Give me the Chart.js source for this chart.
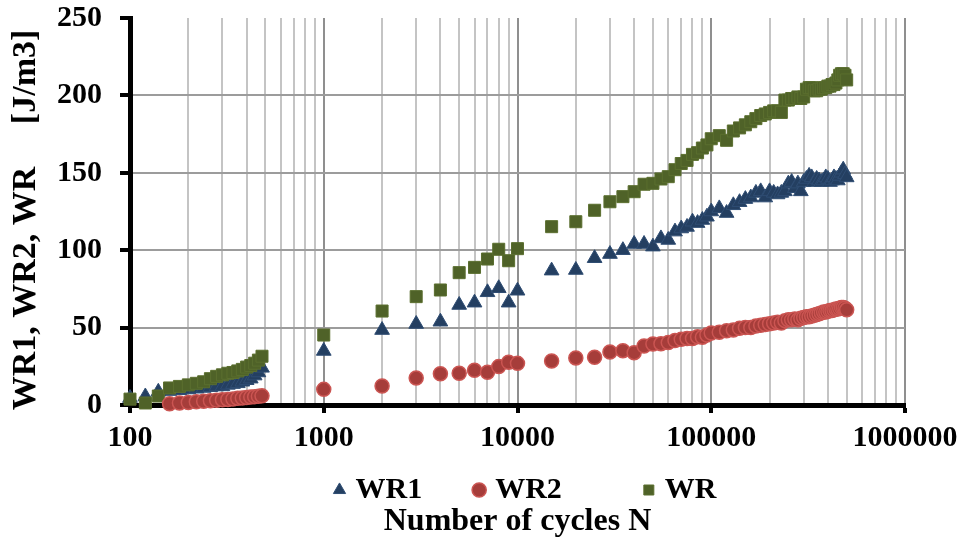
<!DOCTYPE html>
<html><head><meta charset="utf-8">
<script src="https://cdn.jsdelivr.net/npm/chart.js@4.4.1/dist/chart.umd.min.js"></script>
<style>html,body{margin:0;padding:0;background:#fff}canvas{display:block}</style>
</head><body>
<canvas id="c" width="965" height="552"></canvas>
<script>
// Number of cycles N (x values)
const cycles = [
  100,120,140,160,180,200,220,240,260,280,300,320,340,360,380,400,420,440,460,480,
  1000,2000,3000,4000,5000,6000,7000,8000,9000,10000,
  15000,20000,25000,30000,35000,40000,45000,50000,55000,60000,65000,70000,75000,80000,85000,90000,95000,100000,
  110000,120000,130000,140000,150000,160000,170000,180000,190000,200000,
  210000,220000,230000,240000,250000,260000,270000,280000,290000,300000,
  310000,320000,330000,340000,350000,360000,370000,380000,390000,400000,
  410000,420000,430000,440000,450000,460000,470000,480000,490000,500000
];
// WR1 [J/m3]
const wr1 = [
  4.5,5.5,8.5,9,9.5,10,10.5,11,11.5,12,12,13,13.5,14,15,16,17,19,21,24,
  34.9,48.4,52.3,53.8,64.6,66.1,72.8,75.4,66.1,73.8,
  86.8,87.2,94.8,97.5,100,104,104,102.3,107.6,106.6,112,114,115,118.4,117.5,119.5,121.6,125,
  127,124,129,131,133,134,137,138,134,138,
  137,136,137,138,143,144,140,143,138,144,
  146,148,147,144,146,145,144,145,147,146,
  144,145,147,146,145,148,150,152,149,147
];
// WR2 [J/m3]
const wr2 = [
  null,null,null,0.8,1.3,1.6,2.1,2.4,2.7,3.0,3.4,3.6,3.9,4.3,4.5,4.8,5.1,5.4,5.7,5.9,
  10.1,12.3,17.4,20.2,20.5,22.4,21.1,24.8,27.6,26.9,
  28.4,30.4,30.8,34.2,35.1,33.8,38.1,39.4,39.6,40.3,41.6,42.4,43,43,44.1,43.8,45.2,46.5,
  47,48,48.5,49.5,50,50,51,51.5,52,52.5,
  53,53.5,53,54.5,55,55,55.5,55,56,56.5,
  57,57,57.5,58,58.5,59,59.5,60,60,60.5,
  61,61,61.5,62,62,62.5,63,63,62.5,61.5
];
// WR [J/m3]
const wr = [
  3.8,1.3,5.8,11,12,13,14,15,17,18.5,19.5,20.5,21,22,23,24.5,25.5,27,29,31.5,
  45.2,60.7,70,74.3,85.5,88.9,94.3,100.6,93.2,101,
  115.2,118.4,125.8,131.3,134.6,137.8,142.6,143.2,146,147.5,152,156,158,161.9,163,166,168,172,
  174,171,177,179,181,183,185,187,188,189,
  190,190,189,197,197,198,198,199,198,199,
  204,205,205,203,203,204,204,205,205,206,
  206,207,207,208,210,213,214,214,213,210
];
const seriesNames = ['WR1','WR2    ','WR'];
const xDecades = [100,1000,10000,100000,1000000];
const yTicks = [0,50,100,150,200,250];

const FONT = "'Liberation Serif','Times New Roman',serif";
function pts(vals){ return cycles.map((n,i)=>({x:n,y:vals[i]})).filter(p=>p.y!==null); }
const xGridValues = [];
xDecades.forEach(d=>{ for(let k=1;k<10;k++){ const v=d*k; if(v<=1000000) xGridValues.push(v); } });

// place the legend row (its own padding is used as the gap between entries)
const LEGEND_PAD = 56;
const legendPlacer = {
  id:'legendPlacer',
  afterLayout(chart){
    const lg = chart.legend; if(!lg) return;
    lg.left += 10; lg.right += 10;
    lg.top = 490 - 15 - LEGEND_PAD; lg.bottom = 552; lg.height = lg.bottom - lg.top;
  }
};

new Chart(document.getElementById('c'), {
  type: 'scatter',
  data: {
    datasets: [
      { label: seriesNames[0], data: pts(wr1), pointStyle:'triangle', pointRadius:8.5, pointHoverRadius:8.5,
        backgroundColor:'#243f61', borderColor:'#2f4d73', borderWidth:1, order:3, clip:false },
      { label: seriesNames[1], data: pts(wr2), pointStyle:'circle', pointRadius:7, pointHoverRadius:7,
        backgroundColor:'#a63d3a', borderColor:'#cb5552', borderWidth:1.5, order:1, clip:false },
      { label: seriesNames[2], data: pts(wr), pointStyle:'rect', pointRadius:8.5, pointHoverRadius:8.5,
        backgroundColor:'#4f6228', borderColor:'#5b6f2f', borderWidth:1, order:2, clip:false }
    ]
  },
  plugins:[legendPlacer],
  options: {
    responsive:false, animation:false, devicePixelRatio:1,
    layout:{ padding:{ top:18, right:60, bottom:14, left:0 } },
    plugins:{
      tooltip:{enabled:false},
      legend:{
        position:'bottom', fullSize:false, maxHeight:45,
        labels:{
          usePointStyle:true, boxWidth:2, boxHeight:10, padding:LEGEND_PAD,
          color:'#000', font:{family:FONT, size:30, weight:'bold'},
          sort:(a,b)=>a.datasetIndex-b.datasetIndex
        }
      },
      title:{
        display:true, position:'bottom', fullSize:false, text:'Number of cycles N', color:'#000',
        font:{family:FONT, size:32, weight:'bold', lineHeight:1}, padding:{top:1,bottom:0}
      }
    },
    scales:{
      x:{
        type:'logarithmic', min:100, max:1000000,
        afterBuildTicks: s => { s.ticks = xGridValues.map(v=>({value:v, major: xDecades.includes(v)})); },
        afterFit: s => { s.height = 55; s.paddingTop = 0; s.paddingBottom = 0; },
        ticks:{ autoSkip:false, maxRotation:0, padding:7, color:'#000',
          font:{family:FONT, size:30, weight:'bold', lineHeight:1.2},
          callback: v => xDecades.includes(v) ? String(v) : '' },
        grid:{
          color: c => (c.tick && xDecades.includes(c.tick.value)) ? '#8f8f8f' : '#c4c4c4',
          lineWidth:2,
          tickColor: c => (c.tick && xDecades.includes(c.tick.value)) ? '#000' : 'rgba(0,0,0,0)',
          tickLength:8, tickWidth:4
        },
        border:{ display:true, color:'#000', width:5 }
      },
      y:{
        min:0, max:250,
        afterBuildTicks: s => { s.ticks = yTicks.map(v=>({value:v})); },
        afterFit: s => { s.width = 130; s.paddingTop = 0; s.paddingBottom = 0; },
        ticks:{ padding:18, color:'#000', font:{family:FONT, size:30, weight:'bold', lineHeight:1.2} },
        grid:{
          color: c => (c.tick && c.tick.value===250) ? 'rgba(0,0,0,0)' : '#9c9c9c',
          lineWidth:2, tickColor:'#000', tickLength:10, tickWidth:4
        },
        border:{ display:true, color:'#000', width:5 },
        title:{ display:true, text:'WR1, WR2, WR     [J/m3]  ', color:'#000',
          font:{family:FONT, size:34, weight:'bold', lineHeight:1}, padding:{top:9,bottom:0} }
      }
    }
  }
});
</script>
</body></html>
